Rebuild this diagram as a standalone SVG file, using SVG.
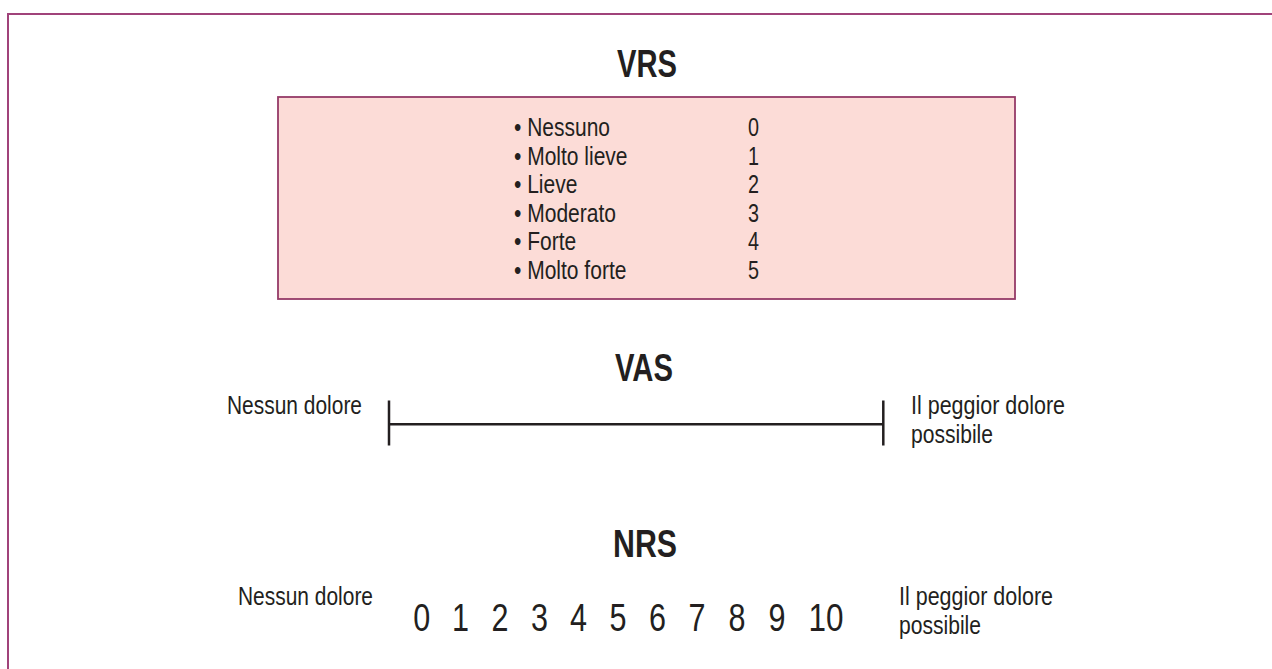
<svg xmlns="http://www.w3.org/2000/svg" width="1272" height="669" viewBox="0 0 1272 669">
<style>
text{font-family:"Liberation Sans",Arial,sans-serif;fill:#231f20}
.t{font-size:25px}
.h{font-size:39px;font-weight:bold;text-anchor:middle}
.n{font-size:38px;text-anchor:middle}
.ln{stroke:#231f20;stroke-width:2.5;fill:none}
</style>
<rect width="1272" height="669" fill="#ffffff"/>
<path d="M8,669 V14 H1272" fill="none" stroke="#a0437a" stroke-width="2"/>
<g id="vrs">
<text class="h" x="647" y="77" textLength="60" lengthAdjust="spacingAndGlyphs">VRS</text>
<rect x="278" y="97" width="737" height="202" fill="#fcdcd7" stroke="#953a68" stroke-width="1.8"/>
<g class="t">
<text class="t" x="514" y="136" textLength="96" lengthAdjust="spacingAndGlyphs">• Nessuno</text>
<text class="t" x="514" y="164.5" textLength="113.5" lengthAdjust="spacingAndGlyphs">• Molto lieve</text>
<text class="t" x="514" y="193" textLength="63.4" lengthAdjust="spacingAndGlyphs">• Lieve</text>
<text class="t" x="514" y="221.7" textLength="102" lengthAdjust="spacingAndGlyphs">• Moderato</text>
<text class="t" x="514" y="250.3" textLength="62.2" lengthAdjust="spacingAndGlyphs">• Forte</text>
<text class="t" x="514" y="279" textLength="112.4" lengthAdjust="spacingAndGlyphs">• Molto forte</text>
<text class="t" x="748" y="136" textLength="11" lengthAdjust="spacingAndGlyphs">0</text>
<text class="t" x="748" y="164.5" textLength="11" lengthAdjust="spacingAndGlyphs">1</text>
<text class="t" x="748" y="193" textLength="11" lengthAdjust="spacingAndGlyphs">2</text>
<text class="t" x="748" y="221.7" textLength="11" lengthAdjust="spacingAndGlyphs">3</text>
<text class="t" x="748" y="250.3" textLength="11" lengthAdjust="spacingAndGlyphs">4</text>
<text class="t" x="748" y="279" textLength="11" lengthAdjust="spacingAndGlyphs">5</text>
</g>
</g>
<g id="vas">
<text class="h" x="644" y="381" textLength="58" lengthAdjust="spacingAndGlyphs">VAS</text>
<text class="t" x="227" y="414" textLength="135" lengthAdjust="spacingAndGlyphs">Nessun dolore</text>
<text class="t" x="911" y="414" textLength="154" lengthAdjust="spacingAndGlyphs">Il peggior dolore</text>
<text class="t" x="911" y="443" textLength="82" lengthAdjust="spacingAndGlyphs">possibile</text>
</g>
<g id="connectors">
<path class="ln" d="M389,400.5 V445.5 M389,424.3 H883.3 M883.3,400.5 V445.5"/>
</g>
<g id="nrs">
<text class="h" x="645" y="557" textLength="64" lengthAdjust="spacingAndGlyphs">NRS</text>
<text class="t" x="238" y="605" textLength="135" lengthAdjust="spacingAndGlyphs">Nessun dolore</text>
<text class="t" x="899" y="605" textLength="154" lengthAdjust="spacingAndGlyphs">Il peggior dolore</text>
<text class="t" x="899" y="634" textLength="82" lengthAdjust="spacingAndGlyphs">possibile</text>
<text class="n" x="421.7" y="630.5" textLength="17" lengthAdjust="spacingAndGlyphs">0</text>
<text class="n" x="460.5" y="630.5" textLength="17" lengthAdjust="spacingAndGlyphs">1</text>
<text class="n" x="500" y="630.5" textLength="17" lengthAdjust="spacingAndGlyphs">2</text>
<text class="n" x="539.5" y="630.5" textLength="17" lengthAdjust="spacingAndGlyphs">3</text>
<text class="n" x="578.5" y="630.5" textLength="17" lengthAdjust="spacingAndGlyphs">4</text>
<text class="n" x="618" y="630.5" textLength="17" lengthAdjust="spacingAndGlyphs">5</text>
<text class="n" x="657.5" y="630.5" textLength="17" lengthAdjust="spacingAndGlyphs">6</text>
<text class="n" x="697" y="630.5" textLength="17" lengthAdjust="spacingAndGlyphs">7</text>
<text class="n" x="737" y="630.5" textLength="17" lengthAdjust="spacingAndGlyphs">8</text>
<text class="n" x="777" y="630.5" textLength="17" lengthAdjust="spacingAndGlyphs">9</text>
<text class="n" x="826" y="630.5" textLength="35" lengthAdjust="spacingAndGlyphs">10</text>
</g>
</svg>
